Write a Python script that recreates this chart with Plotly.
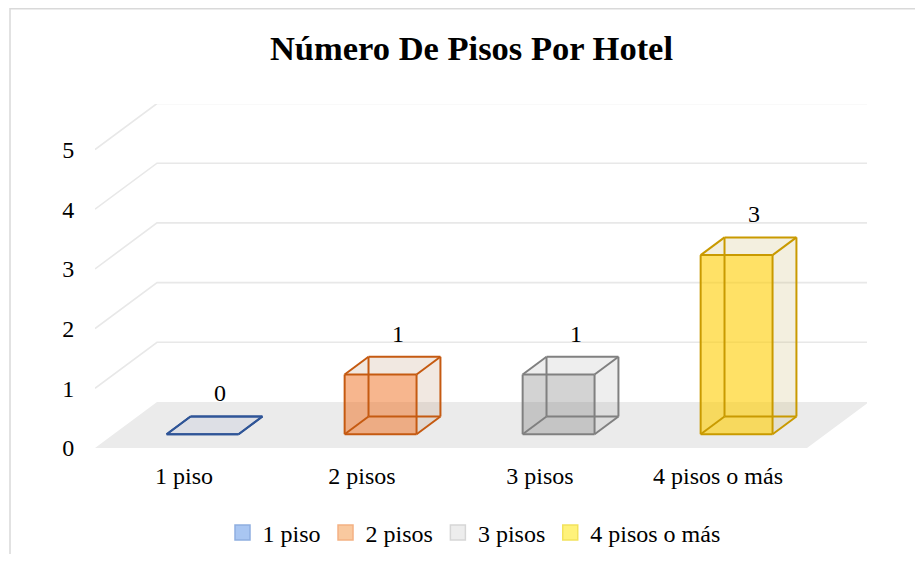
import plotly.graph_objects as go

# ---------------- data ----------------
categories = ["1 piso", "2 pisos", "3 pisos", "4 pisos o más"]
values = [0, 1, 1, 3]
y_ticks = [0, 1, 2, 3, 4, 5]
title_text = "Número De Pisos Por Hotel"

# ---------------- styles ----------------
front_fill = ["rgba(120,140,190,0.12)", "rgba(240,110,30,0.50)",
              "rgba(120,120,120,0.33)", "rgba(255,205,0,0.60)"]
side_fill = ["rgba(120,140,190,0.12)", "rgba(190,150,120,0.22)",
             "rgba(150,150,150,0.16)", "rgba(200,180,110,0.22)"]
edge_color = ["#2F5597", "#C55A11", "#808080", "#C99A00"]
legend_fill = ["#A9C6F2", "#F9C99F", "#EDEDED", "#FFF27A"]
legend_line = ["#8FAEE0", "#F4B183", "#D6D6D6", "#F2E25C"]
FONT = "'Liberation Serif', 'Times New Roman', Times, serif"
LABEL_SIZE = 24

# ---------------- geometry ----------------
# the page body has an 8px margin on every side; keep the page inside the 923x562 window
OFF = 8
W, H = 923 - 2 * OFF, 562 - 2 * OFF
ML, MT = 95 - OFF, 104 - OFF
MR = W - (867 - OFF)
MB = H - (448 - OFF)
PX_X = 178.0          # pixels per category
PX_Y = 59.7           # pixels per unit value
DX = 62 / PX_X        # depth offset (full floor depth) in category units
DY = 46 / PX_Y        # depth offset (full floor depth) in value units
X0 = -0.5
PW = W - ML - MR
PH = H - MT - MB
X1 = X0 + PW / PX_X
Y1 = PH / PX_Y
HALF = 0.202          # half bar width in category units
D_FRONT, D_BACK = 0.30, 0.685
D_LABEL = 0.58
n = len(categories)
XR = n - 0.5


def proj(x, v, d):
    return x + d * DX, v + d * DY


def poly(points):
    xs, ys = [], []
    for p in points:
        px, py = proj(*p)
        xs.append(px)
        ys.append(py)
    xs.append(xs[0])
    ys.append(ys[0])
    return xs, ys


fig = go.Figure()

# floor
fx, fy = poly([(X0, 0, 0), (X0, 0, 1), (XR, 0, 1), (XR, 0, 0)])
fig.add_trace(go.Scatter(x=fx, y=fy, fill="toself", fillcolor="#EBEBEB",
                         mode="lines", line=dict(width=0), hoverinfo="skip",
                         showlegend=False))

# gridlines on side and back walls
gx, gy = [], []
for v in y_ticks[1:]:
    for p in [(X0, v, 0), (X0, v, 1), (XR, v, 1)]:
        a, b = proj(*p)
        gx.append(a)
        gy.append(b)
    gx.append(None)
    gy.append(None)
fig.add_trace(go.Scatter(x=gx, y=gy, mode="lines",
                         line=dict(color="#E8E8E8", width=1.6),
                         hoverinfo="skip", showlegend=False))

# bars
for i, v in enumerate(values):
    l, r = i - HALF, i + HALF
    faces = []
    if v > 0:
        faces.append(([(r, 0, D_FRONT), (r, v, D_FRONT), (r, v, D_BACK), (r, 0, D_BACK)], side_fill[i]))
        faces.append(([(l, v, D_FRONT), (r, v, D_FRONT), (r, v, D_BACK), (l, v, D_BACK)], side_fill[i]))
        faces.append(([(l, 0, D_FRONT), (r, 0, D_FRONT), (r, v, D_FRONT), (l, v, D_FRONT)], front_fill[i]))
    else:
        faces.append(([(l, 0, D_FRONT), (r, 0, D_FRONT), (r, 0, D_BACK), (l, 0, D_BACK)], front_fill[i]))
    for pts, col in faces:
        px, py = poly(pts)
        fig.add_trace(go.Scatter(x=px, y=py, fill="toself", fillcolor=col,
                                 mode="lines", line=dict(width=0),
                                 hoverinfo="skip", showlegend=False))
    corners = {}
    for cx in (l, r):
        for cv in (0, v):
            for cd in (D_FRONT, D_BACK):
                corners[(cx, cv, cd)] = proj(cx, cv, cd)
    ex, ey = [], []
    edges = []
    for cv in (0, v):
        edges += [((l, cv, D_FRONT), (r, cv, D_FRONT)), ((r, cv, D_FRONT), (r, cv, D_BACK)),
                  ((r, cv, D_BACK), (l, cv, D_BACK)), ((l, cv, D_BACK), (l, cv, D_FRONT))]
    if v > 0:
        for cx in (l, r):
            for cd in (D_FRONT, D_BACK):
                edges.append(((cx, 0, cd), (cx, v, cd)))
    for a, b in edges:
        ex += [corners[a][0], corners[b][0], None]
        ey += [corners[a][1], corners[b][1], None]
    fig.add_trace(go.Scatter(x=ex, y=ey, mode="lines",
                             line=dict(color=edge_color[i], width=2),
                             hoverinfo="skip", showlegend=False))
    lx, ly = proj(i, v, D_LABEL)
    fig.add_annotation(x=lx, y=ly, text=str(v), showarrow=False, yshift=28,
                       font=dict(family=FONT, size=LABEL_SIZE, color="#000000"))

# legend entries
for i, c in enumerate(categories):
    fig.add_trace(go.Scatter(x=[None], y=[None], mode="markers", name=c,
                             marker=dict(symbol="square", size=15, color=legend_fill[i],
                                         line=dict(color=legend_line[i], width=1.5))))

# chart border (left and top edges visible; right/bottom fall outside the window)
fig.add_shape(type="rect", xref="paper", yref="paper",
              x0=(10 - OFF - ML) / PW, x1=(W + 20 - ML) / PW,
              y0=(PH + MT - (H + 20)) / PH, y1=(PH + MT - 0.75) / PH,
              line=dict(color="#D9D9D9", width=1.5), fillcolor="rgba(0,0,0,0)", layer="below")

fig.update_layout(
    width=W, height=H, autosize=False,
    margin=dict(l=ML, r=MR, t=MT, b=MB, autoexpand=False),
    paper_bgcolor="white", plot_bgcolor="white",
    font=dict(family=FONT, size=LABEL_SIZE, color="#000000"),
    title=dict(text="<b>" + title_text + "</b>", x=(471.5 - OFF) / W, xanchor="center",
               y=1 - (48 - OFF) / H, yanchor="middle", xref="container", yref="container",
               font=dict(family=FONT, size=34.5, color="#000000")),
    xaxis=dict(range=[X0, X1], tickvals=list(range(n)), ticktext=categories,
               showgrid=False, zeroline=False, showline=False, ticks="outside",
               ticklen=6, tickcolor="rgba(0,0,0,0)", fixedrange=True),
    yaxis=dict(range=[0, Y1], tickvals=y_ticks, showgrid=False, zeroline=False,
               showline=False, ticks="outside", ticklen=15,
               tickcolor="rgba(0,0,0,0)", fixedrange=True),
    legend=dict(orientation="h", xref="container", yref="container",
                x=(474 - OFF) / W, xanchor="center",
                y=1 - (533 - OFF) / H, yanchor="middle",
                font=dict(family=FONT, size=LABEL_SIZE), itemwidth=30,
                bgcolor="rgba(0,0,0,0)"),
    showlegend=True,
)

fig.write_html("out.html")
